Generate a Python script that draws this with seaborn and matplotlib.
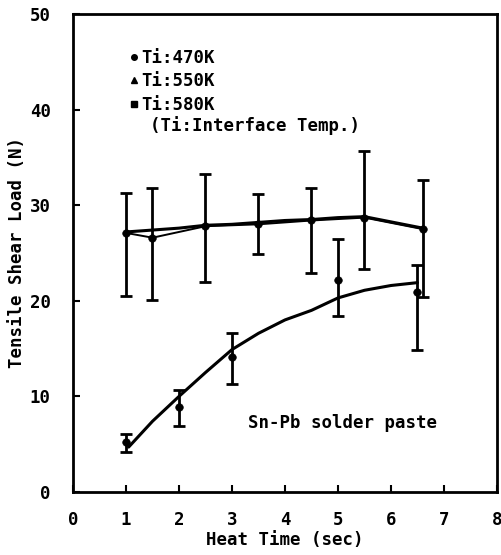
import pandas as pd
import matplotlib.pyplot as plt
import seaborn as sns
from matplotlib.lines import Line2D

# Data
# upper group (plateau)
upper_time = [1.0, 1.5, 2.5, 3.5, 4.5, 5.5, 6.6]
upper_load = [27.1, 26.6, 27.8, 28.0, 28.4, 28.7, 27.5]
upper_err_hi = [31.3, 31.8, 33.3, 31.2, 31.8, 35.7, 32.6]
upper_err_lo = [20.5, 20.1, 22.0, 24.9, 22.9, 23.3, 20.4]

# lower group (Sn-Pb rising)
lower_time = [1.0, 2.0, 3.0, 5.0, 6.5]
lower_load = [5.2, 8.9, 14.1, 22.2, 20.9]
lower_err_hi = [6.1, 10.7, 16.6, 26.5, 23.7]
lower_err_lo = [4.2, 6.9, 11.3, 18.4, 14.9]

# fitted curves
upper_curve_t = [1.0, 1.5, 2.0, 2.5, 3.0, 3.5, 4.0, 4.5, 5.0, 5.5, 6.6]
upper_curve_y = [27.2, 27.4, 27.6, 27.9, 28.0, 28.2, 28.4, 28.5, 28.7, 28.8, 27.6]
lower_curve_t = [1.05, 1.5, 2.0, 2.5, 3.0, 3.5, 4.0, 4.5, 5.0, 5.5, 6.0, 6.5]
lower_curve_y = [4.7, 7.4, 10.0, 12.5, 14.9, 16.6, 18.0, 19.0, 20.3, 21.1, 21.6, 21.9]

legend_labels = ["Ti:470K", "Ti:550K", "Ti:580K"]
legend_markers = ["o", "^", "s"]

upper = pd.DataFrame({"t": upper_time, "y": upper_load, "hi": upper_err_hi, "lo": upper_err_lo})
lower = pd.DataFrame({"t": lower_time, "y": lower_load, "hi": lower_err_hi, "lo": lower_err_lo})

sns.set_style("ticks")
plt.rcParams["font.family"] = ["DejaVu Sans Mono"]
plt.rcParams["font.weight"] = "bold"
plt.rcParams["text.color"] = "black"
plt.rcParams["axes.labelcolor"] = "black"
plt.rcParams["axes.edgecolor"] = "black"
plt.rcParams["xtick.color"] = "black"
plt.rcParams["ytick.color"] = "black"

FS = 12.5

fig = plt.figure(figsize=(5.01, 5.55), dpi=100)
ax = fig.add_axes([0.1457, 0.1135, 0.8463, 0.8613])

# curves
sns.lineplot(x=upper_curve_t, y=upper_curve_y, ax=ax, color="black", linewidth=2.2, sort=False)
sns.lineplot(x="t", y="y", data=upper, ax=ax, color="black", linewidth=1.4, sort=False)
sns.lineplot(x=lower_curve_t, y=lower_curve_y, ax=ax, color="black", linewidth=2.2, sort=False)

# error bars + points
for df in (upper, lower):
    ax.errorbar(df["t"], df["y"], yerr=[df["y"] - df["lo"], df["hi"] - df["y"]],
                fmt="none", ecolor="black", elinewidth=2, capsize=4, capthick=2)
    sns.scatterplot(x="t", y="y", data=df, ax=ax, color="black", s=30, edgecolor="black", zorder=5)

ax.set_xlim(0, 8)
ax.set_ylim(0, 50)
ax.set_xticks(range(0, 9))
ax.set_yticks(range(0, 51, 10))
ax.tick_params(direction="in", length=5, width=1.5, labelsize=FS)
ax.tick_params(axis="x", pad=14)
ax.tick_params(axis="y", pad=16)
for lab in ax.get_xticklabels() + ax.get_yticklabels():
    lab.set_fontweight("bold")
for sp in ax.spines.values():
    sp.set_linewidth(2)
    sp.set_visible(True)
    sp.set_color("black")

ax.set_xlabel("Heat Time (sec)", fontsize=FS, fontweight="bold", labelpad=1)
ax.set_ylabel("Tensile Shear Load (N)", fontsize=FS, fontweight="bold", labelpad=3)

handles = [Line2D([], [], marker=m, color="black", linestyle="none", markersize=4)
           for m in legend_markers]
ax.legend(handles, legend_labels, loc="upper left", bbox_to_anchor=(0.09, 0.96),
          frameon=False, handletextpad=0.05, handlelength=0.8, labelspacing=0.32,
          prop={"weight": "bold", "size": FS})
ax.text(1.45, 38.3, "(Ti:Interface Temp.)", fontsize=FS, fontweight="bold", va="center")
ax.text(3.3, 7.2, "Sn-Pb solder paste", fontsize=FS, fontweight="bold", va="center")

fig.savefig("out.png", dpi=100)
